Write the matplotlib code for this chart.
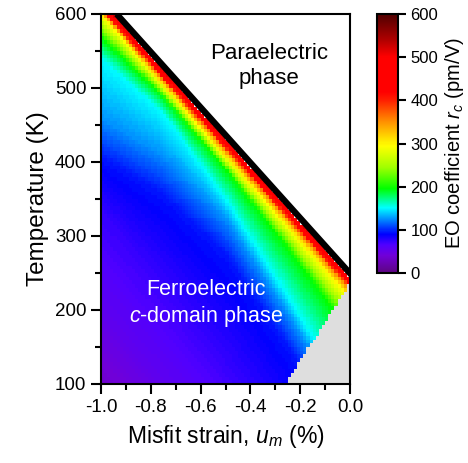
import numpy as np
import matplotlib
matplotlib.use("Agg")
from matplotlib import pyplot as plt
from matplotlib.colors import LinearSegmentedColormap, ListedColormap

plt.rcParams["font.family"] = ["Liberation Sans", "DejaVu Sans"]
plt.rcParams["mathtext.fontset"] = "custom"
plt.rcParams["mathtext.rm"] = "Liberation Sans"
plt.rcParams["mathtext.it"] = "Liberation Sans:italic"

# phase boundaries
para_T0 = 245.0      # edge of the ferroelectric cells at u_m = 0 (K)
para_slope = -374.0  # K per % of misfit strain
gray_T0 = 236.0      # lower-right phase boundary at u_m = 0 (K)
gray_slope = 523.0   # K per %

# iso-value lines of r_c: temperature (K) at these strains
iso_u = [-1.0, -0.75, -0.5, -0.25, 0.0]
iso_r = [10, 35, 55, 75, 95, 125, 150, 195, 295, 350, 450, 520]
iso_T = [
    [-200, -300, -400, -500, -600],
    [100, 0, -100, -200, -300],
    [200, 100, 0, -100, -200],
    [335, 240, 130, 10, -100],
    [405, 355, 275, 150, 10],
    [460, 410, 325, 195, 60],
    [540, 465, 350, 218, 80],
    [568, 488, 390, 283, 170],
    [599, 503, 407, 312, 215],
    [605, 510, 416, 322, 227],
    [611, 517, 424, 330, 237],
    [619, 525.5, 432, 338.5, 245],
]

# colour scale of the colorbar
cb_vals = [0, 40, 65, 90, 120, 150, 195, 245, 295, 350, 400, 420, 500, 540, 600]
cb_cols = ["#5e0582", "#7000d8", "#5000ff", "#0000ff", "#0080ff", "#00ffff",
           "#00ff00", "#a0ff00", "#ffff00", "#ff9000", "#ff2000", "#ff0000",
           "#ff0000", "#b00000", "#500000"]

u_step, T_step = 0.0125, 5.0
u_edges = np.arange(-1.0, 0.0 + u_step / 2, u_step)
T_edges = np.arange(100.0, 600.0 + T_step / 2, T_step)
uc = (u_edges[:-1] + u_edges[1:]) / 2
Tc = (T_edges[:-1] + T_edges[1:]) / 2
U, T = np.meshgrid(uc, Tc)

r = np.zeros(U.shape)
for j, u in enumerate(uc):
    lev_T = [np.interp(u, iso_u, row) for row in iso_T]
    r[:, j] = np.interp(Tc, lev_T, iso_r)

para = T > para_T0 + para_slope * U
other = (T < gray_T0 + gray_slope * U) & ~para
r = np.ma.masked_where(para | other, r)
gray = np.ma.masked_where(~other, np.ones(U.shape))

cmap = LinearSegmentedColormap.from_list(
    "eo", list(zip(np.array(cb_vals) / 600.0, cb_cols)))

fig = plt.figure(figsize=(4.68, 4.63), dpi=100)
ax = fig.add_axes([101 / 468, 1 - 384 / 463, 249 / 468, 370 / 463])
cax = fig.add_axes([377 / 468, 1 - 273 / 463, 21 / 468, 259 / 463])

ax.pcolormesh(u_edges, T_edges, gray, cmap=ListedColormap(["#dedede"]), vmin=0, vmax=1)
mesh = ax.pcolormesh(u_edges, T_edges, r, cmap=cmap, vmin=0, vmax=600)

ub = np.array([(600 - para_T0) / para_slope, 0.0])
ax.plot(ub + 0.012, para_T0 + para_slope * ub, color="black", lw=4.5,
        solid_capstyle="butt")

ax.set_xlim(-1.0, 0.0)
ax.set_ylim(100, 600)
ax.set_xticks(np.arange(-1.0, 0.01, 0.2))
ax.set_xticklabels(["-1.0", "-0.8", "-0.6", "-0.4", "-0.2", "0.0"])
ax.set_xticks(np.arange(-0.9, 0.0, 0.2), minor=True)
ax.set_yticks(np.arange(100, 601, 100))
ax.set_yticks(np.arange(150, 600, 100), minor=True)
ax.tick_params(which="major", direction="out", length=7, width=1.5, labelsize=13.5)
ax.tick_params(which="minor", direction="out", length=4, width=1.5)
for s in ax.spines.values():
    s.set_linewidth(1.5)
ax.set_xlabel("Misfit strain, $u_m$ (%)", fontsize=16.5, labelpad=5)
ax.set_ylabel("Temperature (K)", fontsize=17.5, labelpad=4)

ax.text(-0.325, 530, "Paraelectric\nphase", fontsize=16, ha="center",
        va="center", linespacing=1.25)
ax.text(-0.58, 208, "Ferroelectric\n$c$-domain phase", fontsize=15.5, ha="center",
        va="center", color="white", linespacing=1.25)

cb = fig.colorbar(mesh, cax=cax, ticks=np.arange(0, 601, 100))
cb.outline.set_linewidth(1.5)
cax.tick_params(direction="out", length=6, width=1.5, labelsize=12, pad=3)
cb.set_label("EO coefficient $r_c$ (pm/V)", fontsize=14.5, labelpad=3)

fig.savefig("out.png", dpi=100)
